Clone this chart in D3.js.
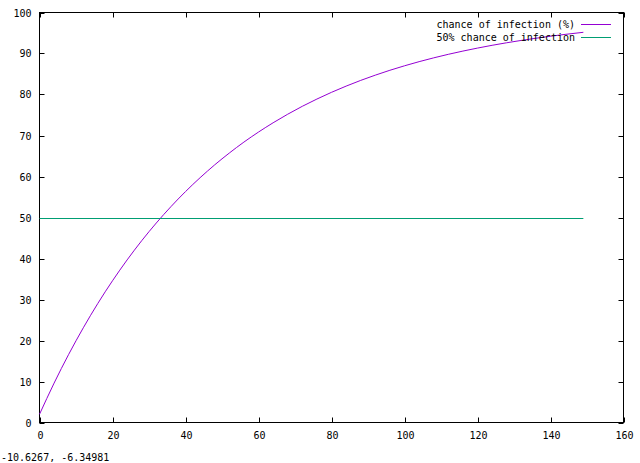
<!DOCTYPE html>
<html><head><meta charset="utf-8">
<script src="https://cdn.jsdelivr.net/npm/d3@7"></script>
<style>
body{margin:0;background:#fff;}
text{font-family:"DejaVu Sans Mono",monospace;font-size:10px;fill:#000;}
</style></head>
<body><svg id="c" width="640" height="463"></svg>
<script>
const xTicks=[0,20,40,60,80,100,120,140,160];
const yTicks=[0,10,20,30,40,50,60,70,80,90,100];
const days=[0,4,8,12,16,20,24,28,32,36,40,44,48,52,56,60,64,68,72,76,80,84,88,92,96,100,104,108,112,116,120,124,128,132,136,140,144,149];
const chance=[2.0,9.61,16.63,23.10,29.07,34.57,39.65,44.34,48.66,52.64,56.32,59.71,62.84,65.72,68.39,70.84,73.10,75.19,77.12,78.89,80.53,82.04,83.44,84.72,85.91,87.00,88.01,88.94,89.80,90.59,91.32,92.00,92.62,93.19,93.72,94.21,94.66,95.17];
const fiftyX=[0,149];
const fiftyY=[50,50];
const seriesNames=["chance of infection (%)","50% chance of infection"];
const coordText="-10.6267, -6.34981";

const svg=d3.select("#c");
const L=39.5,R=623.5,T=12.5,B=422.5;
const x=d3.scaleLinear().domain([0,160]).range([L,R]);
const y=d3.scaleLinear().domain([0,100]).range([B,T]);
const tk=5;
const g=svg.append("g");
xTicks.forEach(v=>{
  const px=Math.round(x(v))+0.5;
  g.append("line").attr("x1",px).attr("x2",px).attr("y1",B).attr("y2",B-tk).attr("stroke","#000");
  g.append("line").attr("x1",px).attr("x2",px).attr("y1",T).attr("y2",T+tk).attr("stroke","#000");
  g.append("text").attr("x",px).attr("y",B+13).attr("dy","0.35em").attr("text-anchor","middle").text(v);
});
yTicks.forEach(v=>{
  const py=Math.round(y(v))+0.5;
  g.append("line").attr("x1",L).attr("x2",L+tk).attr("y1",py).attr("y2",py).attr("stroke","#000");
  g.append("line").attr("x1",R).attr("x2",R-tk).attr("y1",py).attr("y2",py).attr("stroke","#000");
  g.append("text").attr("x",L-8).attr("y",py).attr("dy","0.35em").attr("text-anchor","end").text(v);
});
g.append("rect").attr("x",L).attr("y",T).attr("width",R-L).attr("height",B-T).attr("fill","none").attr("stroke","#000");

const line=d3.line().x(d=>x(d[0])).y(d=>y(d[1]));
svg.append("path").datum(days.map((d,i)=>[d,chance[i]])).attr("d",line.curve(d3.curveMonotoneX))
  .attr("fill","none").attr("stroke","#9400d3").attr("stroke-width",1);
svg.append("path").datum(fiftyX.map((d,i)=>[d,fiftyY[i]])).attr("d",d3.line().x(d=>x(d[0])).y(d=>Math.round(y(d[1]))+0.5))
  .attr("fill","none").attr("stroke","#009e73").attr("stroke-width",1);

const colors=["#9400d3","#009e73"];
seriesNames.forEach((n,i)=>{
  const ly=24+i*13;
  svg.append("text").attr("x",575).attr("y",ly).attr("dy","0.35em").attr("text-anchor","end").text(n);
  svg.append("line").attr("x1",581).attr("x2",611).attr("y1",ly+0.5).attr("y2",ly+0.5).attr("stroke",colors[i]);
});
svg.append("text").attr("x",1).attr("y",457).attr("dy","0.35em").text(coordText);
</script></body></html>
